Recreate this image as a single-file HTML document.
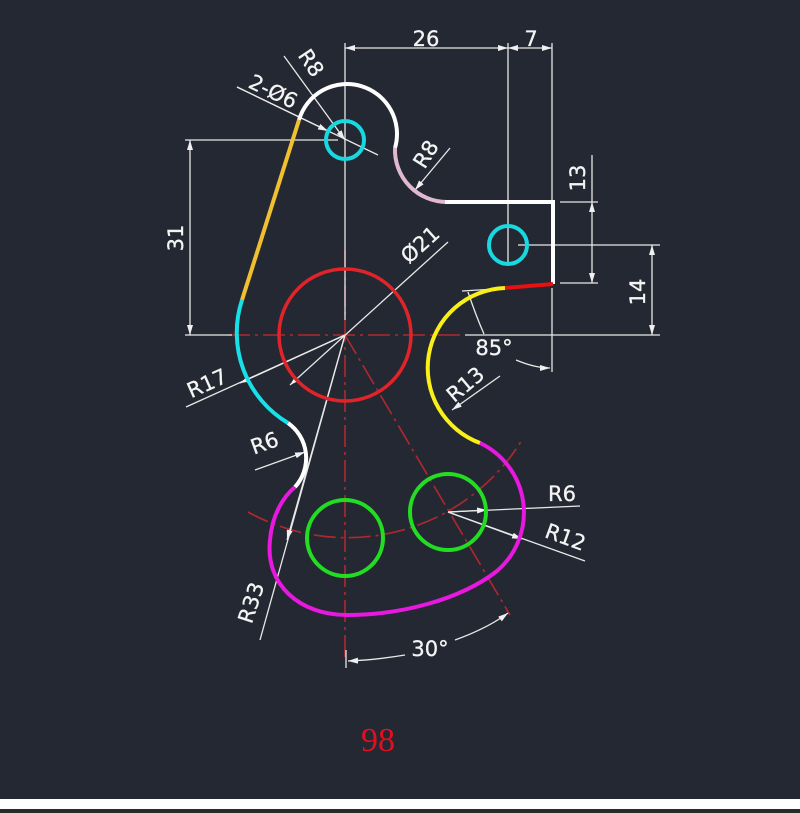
<!DOCTYPE html>
<html><head><meta charset="utf-8"><style>
html,body{margin:0;padding:0;background:#242832;}
svg{display:block}
text{font-family:"DejaVu Sans","Liberation Sans",sans-serif;fill:#f4f4f4;font-size:21px;stroke:#f4f4f4;stroke-width:0.3}
</style></head><body>
<svg width="800" height="813" viewBox="0 0 800 813" xmlns="http://www.w3.org/2000/svg">
<defs>
<marker id="a" viewBox="0 0 10 6" refX="10" refY="3" markerWidth="10" markerHeight="6" orient="auto-start-reverse" markerUnits="userSpaceOnUse"><path d="M0,0 L10,3 L0,6z" fill="#f0f0f0"/></marker>
</defs>
<rect width="800" height="813" fill="#242832"/>
<rect x="0" y="799" width="800" height="10" fill="#ffffff"/>
<rect x="0" y="809" width="800" height="4" fill="#2a2a2a"/>

<g stroke="#b0282e" stroke-width="1.6" fill="none" stroke-dasharray="22,5,3,5">
<line x1="228" y1="335" x2="460" y2="335"/>
<line x1="345" y1="250" x2="345" y2="660"/>
<line x1="345" y1="335" x2="510" y2="615"/>
<path d="M248,512 A205,205 0 0 0 522,440"/>
</g>

<g stroke="#e8e8e8" stroke-width="1.3" fill="none">
<line x1="345" y1="43" x2="345" y2="320"/>
<line x1="508" y1="43" x2="508" y2="265"/>
<line x1="552" y1="43" x2="552" y2="200"/>
<line x1="552" y1="288" x2="552" y2="372"/>
<line x1="345" y1="48" x2="508" y2="48" marker-start="url(#a)" marker-end="url(#a)"/>
<line x1="508" y1="48" x2="552" y2="48" marker-start="url(#a)" marker-end="url(#a)"/>
<line x1="560" y1="202" x2="598" y2="202"/>
<line x1="560" y1="283" x2="598" y2="283"/>
<line x1="592" y1="155" x2="592" y2="202"/>
<line x1="592" y1="202" x2="592" y2="283" marker-start="url(#a)" marker-end="url(#a)"/>
<line x1="518" y1="245" x2="660" y2="245"/>
<line x1="465" y1="335" x2="660" y2="335"/>
<line x1="652" y1="245" x2="652" y2="335" marker-start="url(#a)" marker-end="url(#a)"/>
<line x1="185" y1="140" x2="338" y2="140"/>
<line x1="185" y1="335" x2="232" y2="335"/>
<line x1="190" y1="140" x2="190" y2="335" marker-start="url(#a)" marker-end="url(#a)"/>
<line x1="284" y1="56" x2="345" y2="140" marker-end="url(#a)"/>
<line x1="237" y1="87" x2="378" y2="155"/>
<line x1="237" y1="87" x2="328" y2="131" marker-end="url(#a)"/>
<line x1="450" y1="148" x2="415" y2="190" marker-end="url(#a)"/>
<line x1="448" y1="242" x2="290" y2="385" marker-end="url(#a)"/>
<line x1="345" y1="335" x2="186" y2="407"/>
<line x1="345" y1="335" x2="240" y2="383" marker-end="url(#a)"/>
<line x1="255" y1="470" x2="305" y2="452" marker-end="url(#a)"/>
<line x1="345" y1="335" x2="260" y2="640"/>
<line x1="345" y1="335" x2="287" y2="540" marker-end="url(#a)"/>
<line x1="500" y1="376" x2="452" y2="410" marker-end="url(#a)"/>
<line x1="448" y1="512" x2="580" y2="506"/>
<line x1="448" y1="512" x2="487" y2="510" marker-end="url(#a)"/>
<line x1="448" y1="512" x2="585" y2="561"/>
<line x1="448" y1="512" x2="522" y2="539" marker-end="url(#a)"/>
<line x1="462" y1="291" x2="495" y2="289"/>
<path d="M468,292 Q476,316 484,334"/>
<path d="M516,360 Q535,368 550,368" marker-end="url(#a)"/>
<line x1="346" y1="650" x2="346" y2="668"/>
<path d="M405,655 Q375,660 348,661" marker-end="url(#a)"/>
<path d="M455,640 Q488,628 508,613" marker-end="url(#a)"/>
</g>

<circle cx="345" cy="335" r="66" fill="none" stroke="#e0242a" stroke-width="3.5"/>
<circle cx="345" cy="140" r="19" fill="none" stroke="#18d8e0" stroke-width="4"/>
<circle cx="508" cy="245" r="19" fill="none" stroke="#18d8e0" stroke-width="4"/>
<circle cx="345" cy="538" r="38" fill="none" stroke="#22dd22" stroke-width="4"/>
<circle cx="448" cy="512" r="38" fill="none" stroke="#22dd22" stroke-width="4"/>

<g fill="none" stroke-width="4" stroke-linecap="butt">
<path d="M299,120 A50,50 0 0 1 395,148" stroke="#ffffff"/>
<path d="M395,148 A52,52 0 0 0 447,202" stroke="#e0b8d0"/>
<path d="M445,202 L553,202 L553,284" stroke="#ffffff"/>
<path d="M553,284 L505,288" stroke="#e81010"/>
<path d="M505,288 A80,80 0 0 0 480,443" stroke="#f8f018"/>
<path d="M480,443 A77,77 0 0 1 497,571 C460,600 400,615 347,615 C300,615 265,585 270,540 C272,515 283,497 295,487" stroke="#e818e0"/>
<path d="M295,487 A43,43 0 0 0 288,423" stroke="#ffffff"/>
<path d="M288,423 A105,105 0 0 1 242,300" stroke="#18e0e8"/>
<path d="M242,300 L299,120" stroke="#f0c030"/>
</g>

<text x="426" y="46" text-anchor="middle">26</text>
<text x="531" y="46" text-anchor="middle">7</text>
<text transform="translate(585,178) rotate(-90)" text-anchor="middle">13</text>
<text transform="translate(645,292) rotate(-90)" text-anchor="middle">14</text>
<text transform="translate(183,238) rotate(-90)" text-anchor="middle">31</text>
<text transform="translate(305,67) rotate(56)" text-anchor="middle">R8</text>
<text transform="translate(270,98) rotate(26)" text-anchor="middle">2-Ø6</text>
<text transform="translate(432,158) rotate(-58)" text-anchor="middle">R8</text>
<text transform="translate(425,250) rotate(-42)" text-anchor="middle">Ø21</text>
<text transform="translate(210,390) rotate(-24)" text-anchor="middle">R17</text>
<text transform="translate(267,450) rotate(-20)" text-anchor="middle">R6</text>
<text transform="translate(470,390) rotate(-40)" text-anchor="middle">R13</text>
<text x="494" y="355" text-anchor="middle">85°</text>
<text x="562" y="501" text-anchor="middle">R6</text>
<text transform="translate(563,544) rotate(20)" text-anchor="middle">R12</text>
<text transform="translate(258,605) rotate(-72)" text-anchor="middle">R33</text>
<text x="430" y="656" text-anchor="middle">30°</text>
<text x="378" y="751" text-anchor="middle" style="font-family:'Liberation Serif',serif;font-size:34px;fill:#e01020;stroke:none">98</text>
</svg>
</body></html>
